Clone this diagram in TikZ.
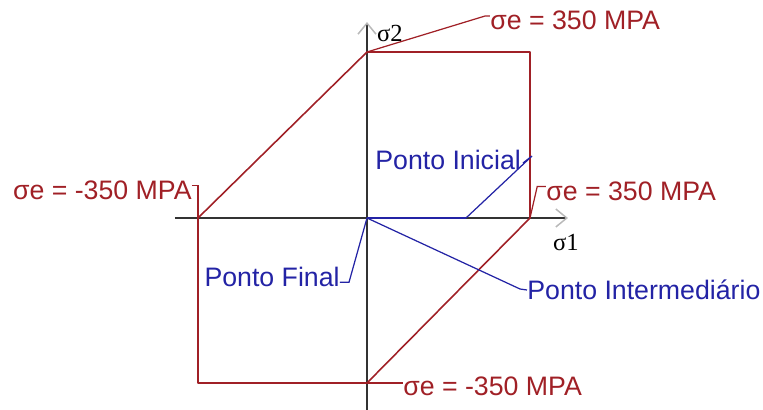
\documentclass[tikz,border=0pt]{standalone}
\usepackage{fontspec}
\setmainfont{Liberation Serif}
\setsansfont{Liberation Sans}
\usetikzlibrary{arrows.meta,calc}
\definecolor{tred}{RGB}{160,32,38}
\definecolor{tblue}{RGB}{35,35,165}

\begin{document}
\begin{tikzpicture}[>={Straight Barb[length=2.2mm,width=3.6mm,color=gray!55]},
    lbl/.style={font=\sffamily\fontsize{15.2}{17}\selectfont, inner sep=0pt},
    axis/.style={line width=0.85pt, black!80},
    yield/.style={line width=0.9pt, tred, line join=round},
    lead/.style={line width=0.7pt}]
    \useasboundingbox (-7.34,-3.84) rectangle (7.92,4.36);

    % eixos
    \draw[->, axis] (-3.84,0) -- (4.02,0);
    \draw[->, axis] (0,-3.84) -- (0,3.92);
    \node[font=\fontsize{14}{16}\selectfont] (s2) at (0.46,3.70) {σ2};
    \node[font=\fontsize{14}{16}\selectfont] (s1) at (3.98,-0.50) {σ1};

    % hexagono de Tresca
    \coordinate (O) at (0,0);
    \coordinate (T) at (0,3.32);
    \coordinate (TR) at (3.26,3.32);
    \coordinate (R) at (3.26,0);
    \coordinate (B) at (0,-3.30);
    \coordinate (BL) at (-3.38,-3.30);
    \coordinate (L) at (-3.38,0);
    \draw[yield] (T) -- (TR) -- (R) -- (B) -- (BL) -- (L) -- cycle;

    \node[lbl, tred, anchor=west] (etop) at (2.46,3.95) {σe = 350 MPA};
    \draw[lead, tred] (T) -- ([xshift=-3pt,yshift=2.5pt]etop.west) -- ([yshift=2.5pt]etop.west);
    \node[lbl, tred, anchor=east] (eleft) at (-3.50,0.56) {σe = -350 MPA};
    \draw[lead, tred] ([yshift=2.5pt]eleft.east) -| (L);
    \node[lbl, tred, anchor=west] (eright) at (3.58,0.54) {σe = 350 MPA};
    \draw[lead, tred] (R) -- ([xshift=-5pt,yshift=2.5pt]eright.west) -- ([yshift=2.5pt]eright.west);
    \node[lbl, tred, anchor=west] (ebot) at (0.72,-3.37) {σe = -350 MPA};
    \draw[lead, tred] (B) -- (ebot.west |- B);

    % pontos
    \coordinate (P1) at (1.98,0);
    \coordinate (K) at (3.06,-1.42);
    \draw[lead, tblue] (O) -- (P1);
    \node[lbl, tblue, anchor=west] (ini) at (0.16,1.17) {Ponto Inicial};
    \draw[lead, tblue] ([xshift=1pt,yshift=-2pt]ini.east) -- (3.30,1.24) -- (P1);
    \node[lbl, tblue, anchor=west] (inter) at (3.20,-1.44) {Ponto Intermediário};
    \draw[lead, tblue] (O) -- (K) -- (inter.west);
    \node[lbl, tblue, anchor=east] (fin) at (-0.54,-1.18) {Ponto Final};
    \draw[lead, tblue] ([yshift=-3pt]fin.east) -- ++(0.18,0) -- (O);
\end{tikzpicture}
\end{document}
